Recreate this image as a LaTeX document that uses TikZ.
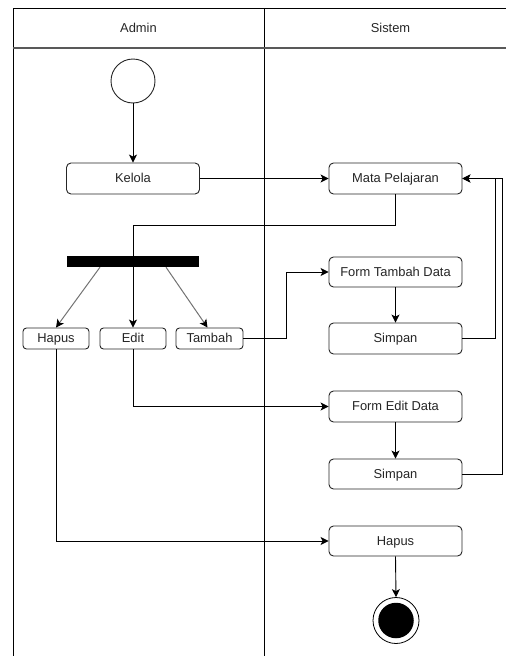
\documentclass[tikz,border=0pt]{standalone}
\usepackage{fontspec}
\setmainfont{Liberation Sans}
\usetikzlibrary{arrows.meta,calc}
\begin{document}
\begin{tikzpicture}[x=1pt,y=-1pt,
  every node/.style={font=\fontsize{12.9}{15}\selectfont, text=black!85, text height=0.8em, text depth=0pt},
  act/.style={draw=black!85, line width=0.9pt, rounded corners=4.5pt, fill=white, minimum width=133pt, minimum height=31pt, inner sep=0pt},
  small/.style={draw=black!85, line width=0.9pt, rounded corners=3.5pt, fill=white, minimum width=66pt, minimum height=21pt, inner sep=0pt},
  conn/.style={line width=0.9pt, draw=black},
  arr/.style={conn, -{Stealth[length=8pt,width=8pt,inset=2pt]}},
  garr/.style={line width=1pt, draw=gray!90!black, -{Stealth[length=8pt,width=8pt,inset=2pt,black]}},
  lane/.style={line width=1pt, draw=black},
  blank/.style={text height=0pt, text depth=0pt, inner sep=0pt}
]
\useasboundingbox (0,0) rectangle (506,656);
% swimlanes
\draw[lane] (13,656) -- (13,8) -- (506,8);
\draw[lane] (264,8) -- (264,656);
\draw[line width=1.2pt, draw=gray!70!black] (13,48) -- (506,48);
\node (hadmin) at (138.5,28) {Admin};
\node (hsistem) at (390.5,28) {Sistem};
% nodes
\node[blank, circle, draw=black!85, line width=0.9pt, minimum size=44pt] (start) at (133,81) {};
\node[act] (kelola) at (133,178.5) {Kelola};
\node[act] (mata) at (395.5,178.5) {Mata Pelajaran};
\node[blank, fill=black, minimum width=132pt, minimum height=11pt] (bar) at (133,261.5) {};
\node[small] (hapusA) at (56,338.5) {Hapus};
\node[small] (edit) at (133,338.5) {Edit};
\node[small, minimum width=67pt] (tambah) at (209.5,338.5) {Tambah};
\node[act, minimum height=30pt] (ftambah) at (395.5,272) {Form Tambah Data};
\node[act] (simpan1) at (395.5,338.5) {Simpan};
\node[act] (fedit) at (395.5,406.5) {Form Edit Data};
\node[act, minimum height=30pt] (simpan2) at (395.5,474) {Simpan};
\node[act, minimum height=30pt] (hapusS) at (395.5,541) {Hapus};
\node[blank, circle, draw=black, line width=0.8pt, fill=white, minimum size=46pt] (end) at (396,620.5) {};
\node[blank, circle, fill=black, minimum size=35.5pt] (endin) at (end.center) {};
% connectors
\coordinate (j1) at (133,225);
\draw[arr] (start.south) -- (kelola.north);
\draw[arr] (kelola.east) -- (mata.west);
\draw[arr] (mata.south) |- (j1) -- (edit.north);
\draw[garr] ($(bar.south)+(-33,0)$) -- (hapusA.north);
\draw[garr] ($(bar.south)+(33,0)$) -- ($(tambah.north)+(-2,0)$);
\draw[arr] (tambah.east) -- ++(43,0) |- (ftambah.west);
\draw[arr] (ftambah.south) -- (simpan1.north);
\draw[arr] (simpan1.east) -- ++(33,0) |- (mata.east);
\draw[arr] (simpan2.east) -- ++(40,0) |- (mata.east);
\draw[arr] (edit.south) |- (fedit.west);
\draw[arr] (fedit.south) -- (simpan2.north);
\draw[arr] (hapusA.south) |- (hapusS.west);
\draw[arr] (hapusS.south) -- (end.north);
\end{tikzpicture}
\end{document}
